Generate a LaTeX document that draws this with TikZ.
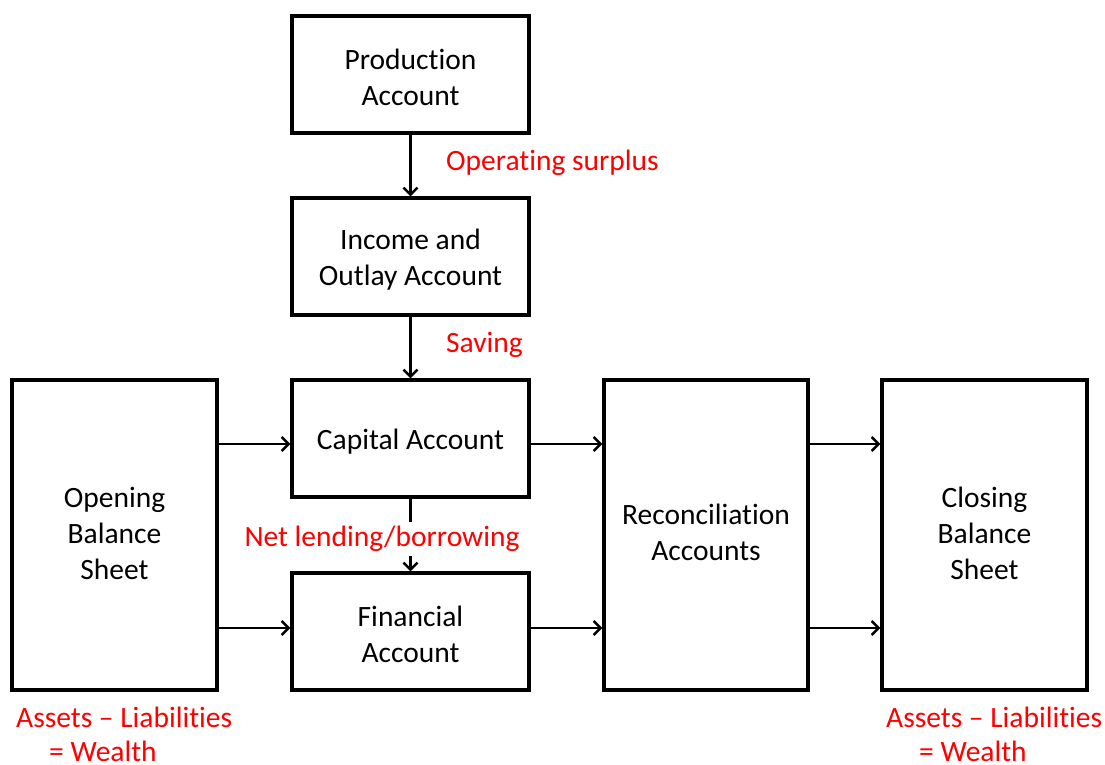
\documentclass[tikz,border=0pt]{standalone}
\usepackage{fontspec}
\setmainfont{Carlito}[Ligatures=NoCommon]
\usetikzlibrary{arrows.meta}
\begin{document}
\begin{tikzpicture}[x=1pt,y=-1pt,
  acct/.style={draw,line width=3.4pt,inner sep=0pt},
  txt/.style={align=center,font=\fontsize{29.5}{36}\selectfont,inner sep=0pt,yshift=-3pt},
  tall/.style={txt,yshift=5pt},
  flow/.style={line width=2.4pt,-{Straight Barb[length=7pt,width=14pt,line width=2.4pt]}},
  note/.style={text=red,font=\fontsize{29.5}{36}\selectfont,inner sep=0pt,align=left}]
\useasboundingbox (0,0) rectangle (1105,765);
% accounts
\node[acct,minimum width=237,minimum height=117,label={[txt]center:{Production\\Account}}] (prod) at (410.5,74.5) {};
\node[acct,minimum width=237,minimum height=117,label={[txt]center:{Income and\\Outlay Account}}] (inc) at (410.5,256.5) {};
\node[acct,minimum width=237,minimum height=117,label={[txt]center:{Capital Account}}] (cap) at (410.5,438.5) {};
\node[acct,minimum width=237,minimum height=117,label={[txt]center:{Financial\\Account}}] (fin) at (410.5,631.5) {};
\node[acct,minimum width=205,minimum height=310,label={[tall]center:{Opening\\Balance\\Sheet}}] (open) at (114.5,535) {};
\node[acct,minimum width=204,minimum height=310,label={[tall,yshift=1pt]center:{Reconciliation\\Accounts}}] (rec) at (706,535) {};
\node[acct,minimum width=205,minimum height=310,label={[tall]center:{Closing\\Balance\\Sheet}}] (close) at (984.5,535) {};
% flows between accounts
\draw[flow] (prod) -- (inc);
\draw[flow] (inc) -- (cap);
\draw[flow] (cap) -- (fin);
\draw[flow] (open.east |- 0,444) -- (cap.west |- 0,444);
\draw[flow] (open.east |- 0,628) -- (fin.west |- 0,628);
\draw[flow] (cap.east |- 0,444) -- (rec.west |- 0,444);
\draw[flow] (fin.east |- 0,628) -- (rec.west |- 0,628);
\draw[flow] (rec.east |- 0,444) -- (close.west |- 0,444);
\draw[flow] (rec.east |- 0,628) -- (close.west |- 0,628);
% balancing items
\node[note,anchor=west] (os) at (446,163) {Operating surplus};
\node[note,anchor=west] (sav) at (446,345) {Saving};
\node[note,fill=white,inner sep=4pt] (nl) at (382,539) {Net lending/borrowing};
\node[note,anchor=base west] (al) at (16,727) {Assets -- Liabilities};
\node[note,anchor=base west,text depth=0pt] (wl) at (49,761) {= Wealth};
\node[note,anchor=base west] (ar) at (886,727) {Assets -- Liabilities};
\node[note,anchor=base west,text depth=0pt] (wr) at (919,761) {= Wealth};
\end{tikzpicture}
\end{document}
